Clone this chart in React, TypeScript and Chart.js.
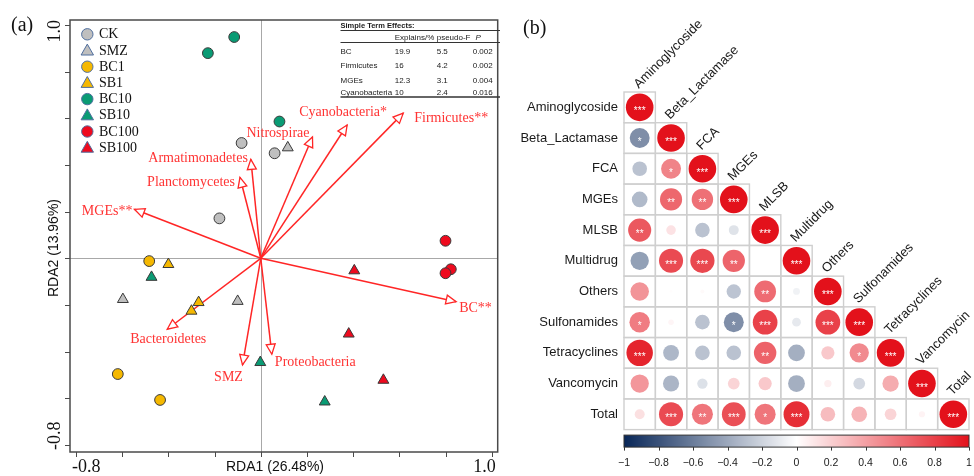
import React, { useEffect, useRef } from 'react';
import { Chart, registerables } from 'chart.js';

Chart.register(...registerables);

const SERIF = '"Liberation Serif", "Times New Roman", serif';
const SANS = '"Liberation Sans", Arial, Helvetica, sans-serif';

// ---------------- Panel (a): RDA biplot data ----------------
const GROUP_NAMES = ['CK', 'SMZ', 'BC1', 'SB1', 'BC10', 'SB10', 'BC100', 'SB100'];
const CK_POINTS = [[-0.083, 0.494], [0.060, 0.450], [-0.179, 0.171]];
const SMZ_POINTS = [[0.117, 0.474], [-0.597, -0.176], [-0.100, -0.184]];
const BC1_POINTS = [[-0.483, -0.012], [-0.619, -0.496], [-0.436, -0.607]];
const SB1_POINTS = [[-0.400, -0.026], [-0.269, -0.189], [-0.300, -0.226]];
const BC10_POINTS = [[-0.115, 0.948], [-0.229, 0.879], [0.081, 0.586]];
const SB10_POINTS = [[-0.473, -0.081], [-0.002, -0.446], [0.277, -0.615]];
const BC100_POINTS = [[0.800, 0.075], [0.823, -0.047], [0.800, -0.064]];
const SB100_POINTS = [[0.405, -0.053], [0.381, -0.324], [0.531, -0.522]];
const GROUP_POINTS = [CK_POINTS, SMZ_POINTS, BC1_POINTS, SB1_POINTS, BC10_POINTS, SB10_POINTS, BC100_POINTS, SB100_POINTS];

const ARROW_NAMES = ['MGEs**', 'Planctomycetes', 'Armatimonadetes', 'Nitrospirae', 'Cyanobacteria*', 'Firmicutes**', 'BC**', 'Bacteroidetes', 'SMZ', 'Proteobacteria'];
const ARROW_X = [-0.547, -0.090, -0.043, 0.224, 0.374, 0.617, 0.846, -0.405, -0.079, 0.048];
const ARROW_Y = [0.210, 0.347, 0.424, 0.520, 0.571, 0.622, -0.186, -0.304, -0.457, -0.411];

const AXIS_TICKS = [-0.8, -0.6, -0.4, -0.2, 0, 0.2, 0.4, 0.6, 0.8, 1.0];
const AXIS_TICK_TEXT = ['-0.8', '', '', '', '', '', '', '', '', '1.0'];
const X_TITLE = 'RDA1 (26.48%)';
const Y_TITLE = 'RDA2 (13.96%)';

const TABLE_TITLE = 'Simple Term Effects:';
const TABLE_HEADERS = ['Explains/%', 'pseudo-F', 'P'];
const TERM_NAMES = ['BC', 'Firmicutes', 'MGEs', 'Cyanobacteria'];
const TERM_EXPLAINS = ['19.9', '16', '12.3', '10'];
const TERM_PSEUDO_F = ['5.5', '4.2', '3.1', '2.4'];
const TERM_P = ['0.002', '0.002', '0.004', '0.016'];

// ---------------- Panel (b): correlation matrix data ----------------
const ARG_CATEGORIES = ['Aminoglycoside', 'Beta_Lactamase', 'FCA', 'MGEs', 'MLSB', 'Multidrug', 'Others', 'Sulfonamides', 'Tetracyclines', 'Vancomycin', 'Total'];
const CORR_AMINOGLYCOSIDE = [1];
const CORR_BETA_LACTAMASE = [-0.52, 1];
const CORR_FCA = [-0.28, 0.52, 1];
const CORR_MGES = [-0.32, 0.64, 0.60, 1];
const CORR_MLSB = [0.70, 0.12, -0.28, -0.13, 1];
const CORR_MULTIDRUG = [-0.44, 0.76, 0.77, 0.65, 0.0, 1];
const CORR_OTHERS = [0.45, 0.01, 0.02, -0.27, 0.62, -0.06, 1];
const CORR_SULFONAMIDES = [0.55, 0.04, -0.28, -0.52, 0.80, -0.10, 0.80, 1];
const CORR_TETRACYCLINES = [0.92, -0.33, -0.28, -0.28, 0.66, -0.37, 0.23, 0.49, 1];
const CORR_VANCOMYCIN = [0.44, -0.34, -0.14, 0.18, 0.23, -0.37, 0.07, -0.18, 0.35, 1];
const CORR_TOTAL = [0.13, 0.76, 0.58, 0.74, 0.58, 0.88, 0.28, 0.32, 0.18, 0.05, 1];
const CORR_ROWS = [CORR_AMINOGLYCOSIDE, CORR_BETA_LACTAMASE, CORR_FCA, CORR_MGES, CORR_MLSB, CORR_MULTIDRUG, CORR_OTHERS, CORR_SULFONAMIDES, CORR_TETRACYCLINES, CORR_VANCOMYCIN, CORR_TOTAL];

const SIG_AMINOGLYCOSIDE = ['***'];
const SIG_BETA_LACTAMASE = ['*', '***'];
const SIG_FCA = ['', '*', '***'];
const SIG_MGES = ['', '**', '**', '***'];
const SIG_MLSB = ['**', '', '', '', '***'];
const SIG_MULTIDRUG = ['', '***', '***', '**', '', '***'];
const SIG_OTHERS = ['', '', '', '', '**', '', '***'];
const SIG_SULFONAMIDES = ['*', '', '', '*', '***', '', '***', '***'];
const SIG_TETRACYCLINES = ['***', '', '', '', '**', '', '', '*', '***'];
const SIG_VANCOMYCIN = ['', '', '', '', '', '', '', '', '', '***'];
const SIG_TOTAL = ['', '***', '**', '***', '*', '***', '', '', '', '', '***'];
const SIG_ROWS = [SIG_AMINOGLYCOSIDE, SIG_BETA_LACTAMASE, SIG_FCA, SIG_MGES, SIG_MLSB, SIG_MULTIDRUG, SIG_OTHERS, SIG_SULFONAMIDES, SIG_TETRACYCLINES, SIG_VANCOMYCIN, SIG_TOTAL];

const COLORBAR_TICKS = [-1, -0.8, -0.6, -0.4, -0.2, 0, 0.2, 0.4, 0.6, 0.8, 1];

// ---------------- styles ----------------
const GROUP_SHAPES = ['circle', 'triangle', 'circle', 'triangle', 'circle', 'triangle', 'circle', 'triangle'];
const GROUP_COLORS = ['#BFBFBF', '#BFBFBF', '#F5B800', '#F5B800', '#0A9B74', '#0A9B74', '#EE0A1E', '#EE0A1E'];
const ARROW_COLOR = '#FF2626';
const LABEL_COLOR = '#FF3333';
const ARROW_LABEL_PLACE = [
  { dx: -2, dy: 2, align: 'right' },
  { dx: -5, dy: 5, align: 'right' },
  { dx: -3, dy: -1, align: 'right' },
  { dx: -3, dy: -4, align: 'right' },
  { dx: -4, dy: -13, align: 'center' },
  { dx: 11, dy: 5, align: 'left' },
  { dx: 3, dy: 7, align: 'left' },
  { dx: 1, dy: 10, align: 'center' },
  { dx: -14, dy: 12, align: 'center' },
  { dx: 3, dy: 8, align: 'left' },
];
const NEG_END = [8, 38, 88];
const POS_END = [227, 17, 27];

function corrColor(v: number): string {
  const t = Math.min(1, Math.abs(v));
  const end = v < 0 ? NEG_END : POS_END;
  const c = end.map((e) => Math.round(255 + (e - 255) * t));
  return `rgb(${c[0]},${c[1]},${c[2]})`;
}

// ---------------- Panel (a) plugin ----------------
const panelAPlugin = {
  id: 'panelADecor',
  beforeDatasetsDraw(chart: any) {
    const { ctx, chartArea: a, scales } = chart;
    const x0 = Math.round(scales.x.getPixelForValue(0)) + 0.5;
    const y0 = Math.round(scales.y.getPixelForValue(0)) + 0.5;
    ctx.save();
    ctx.strokeStyle = '#A8A8A8';
    ctx.lineWidth = 1;
    ctx.beginPath();
    ctx.moveTo(x0, a.top);
    ctx.lineTo(x0, a.bottom);
    ctx.moveTo(a.left, y0);
    ctx.lineTo(a.right, y0);
    ctx.stroke();
    ctx.restore();
  },
  afterDatasetsDraw(chart: any) {
    const { ctx, scales } = chart;
    const ox = scales.x.getPixelForValue(0);
    const oy = scales.y.getPixelForValue(0);
    ctx.save();
    for (let i = 0; i < ARROW_NAMES.length; i++) {
      const tx = scales.x.getPixelForValue(ARROW_X[i]);
      const ty = scales.y.getPixelForValue(ARROW_Y[i]);
      const dx = tx - ox, dy = ty - oy;
      const len = Math.hypot(dx, dy);
      const ux = dx / len, uy = dy / len;
      const L = 10, W = 4.5;
      const bx = tx - ux * L, by = ty - uy * L;
      ctx.beginPath();
      ctx.moveTo(tx, ty);
      ctx.lineTo(bx - uy * W, by + ux * W);
      ctx.lineTo(bx + uy * W, by - ux * W);
      ctx.closePath();
      ctx.fillStyle = '#FFFFFF';
      ctx.fill();
      ctx.strokeStyle = ARROW_COLOR;
      ctx.lineWidth = 1.3;
      ctx.stroke();
      const p = ARROW_LABEL_PLACE[i];
      ctx.font = `14px ${SERIF}`;
      ctx.fillStyle = LABEL_COLOR;
      ctx.textAlign = p.align;
      ctx.textBaseline = 'middle';
      ctx.fillText(ARROW_NAMES[i], tx + p.dx, ty + p.dy);
    }
    ctx.restore();
  },
  afterDraw(chart: any) {
    const { ctx, chartArea: a, scales } = chart;
    ctx.save();
    // box
    ctx.strokeStyle = '#4A4A4A';
    ctx.lineWidth = 1.5;
    ctx.strokeRect(a.left, a.top, a.right - a.left, a.bottom - a.top);
    // ticks
    ctx.lineWidth = 1;
    ctx.beginPath();
    AXIS_TICKS.forEach((t) => {
      const px = Math.round(scales.x.getPixelForValue(t)) + 0.5;
      ctx.moveTo(px, a.bottom);
      ctx.lineTo(px, a.bottom + 5);
      const py = Math.round(scales.y.getPixelForValue(t)) + 0.5;
      ctx.moveTo(a.left, py);
      ctx.lineTo(a.left - 5, py);
    });
    ctx.stroke();
    // tick labels
    ctx.fillStyle = '#111';
    ctx.font = `18px ${SERIF}`;
    ctx.textBaseline = 'middle';
    AXIS_TICKS.forEach((t, i) => {
      const txt = AXIS_TICK_TEXT[i];
      if (!txt) return;
      const first = i === 0;
      const px = scales.x.getPixelForValue(t);
      ctx.textAlign = first ? 'left' : 'right';
      ctx.fillText(txt, px + (first ? -4 : 4), a.bottom + 15);
      const py = scales.y.getPixelForValue(t);
      ctx.save();
      ctx.translate(a.left - 15, py + (first ? 5 : -5));
      ctx.rotate(-Math.PI / 2);
      ctx.textAlign = first ? 'left' : 'right';
      ctx.fillText(txt, 0, 0);
      ctx.restore();
    });
    // axis titles
    ctx.font = `14px ${SANS}`;
    ctx.textAlign = 'center';
    ctx.fillText(X_TITLE, 275, a.bottom + 15);
    ctx.save();
    ctx.translate(54, 248);
    ctx.rotate(-Math.PI / 2);
    ctx.fillText(Y_TITLE, 0, 0);
    ctx.restore();
    // panel letter
    ctx.font = `20px ${SERIF}`;
    ctx.textAlign = 'left';
    ctx.fillText('(a)', 11, 26);
    // legend
    GROUP_NAMES.forEach((name, k) => {
      const cx = 87.3, cy = 34.3 + k * 16.2;
      ctx.beginPath();
      if (GROUP_SHAPES[k] === 'circle') {
        ctx.arc(cx, cy, 5.7, 0, Math.PI * 2);
      } else {
        ctx.moveTo(cx, cy - 6.4);
        ctx.lineTo(cx - 6.2, cy + 4.5);
        ctx.lineTo(cx + 6.2, cy + 4.5);
        ctx.closePath();
      }
      ctx.fillStyle = GROUP_COLORS[k];
      ctx.fill();
      ctx.strokeStyle = '#4F6E9E';
      ctx.lineWidth = 1;
      ctx.stroke();
      ctx.fillStyle = '#111';
      ctx.font = `14px ${SERIF}`;
      ctx.textAlign = 'left';
      ctx.textBaseline = 'middle';
      ctx.fillText(name, 99, cy + 0.5);
    });
    // table
    const tx0 = 340.5, tx1 = 500;
    const cols = [394.7, 436.7, 472.7];
    ctx.fillStyle = '#1A1A1A';
    ctx.textAlign = 'left';
    ctx.textBaseline = 'middle';
    ctx.font = `bold 7.5px ${SANS}`;
    ctx.fillText(TABLE_TITLE, tx0, 26.3);
    ctx.font = `8px ${SANS}`;
    ctx.fillText(TABLE_HEADERS[0], cols[0], 37.7);
    ctx.fillText(TABLE_HEADERS[1], cols[1], 37.7);
    ctx.font = `italic 8px ${SANS}`;
    ctx.fillText(TABLE_HEADERS[2], 475.5, 37.7);
    ctx.font = `8px ${SANS}`;
    const rowY = [51.7, 66, 80.7, 92.3];
    TERM_NAMES.forEach((n, i) => {
      ctx.fillText(n, tx0, rowY[i]);
      ctx.fillText(TERM_EXPLAINS[i], cols[0], rowY[i]);
      ctx.fillText(TERM_PSEUDO_F[i], cols[1], rowY[i]);
      ctx.fillText(TERM_P[i], cols[2], rowY[i]);
    });
    ctx.strokeStyle = '#333';
    ctx.lineWidth = 1;
    ctx.beginPath();
    ctx.moveTo(tx0, 30.5); ctx.lineTo(tx1, 30.5);
    ctx.moveTo(tx0, 42.5); ctx.lineTo(tx1, 42.5);
    ctx.stroke();
    ctx.lineWidth = 1.6;
    ctx.beginPath();
    ctx.moveTo(tx0, 97); ctx.lineTo(tx1, 97);
    ctx.stroke();
    ctx.restore();
  },
};

// ---------------- Panel (b) plugin ----------------
const panelBPlugin = {
  id: 'panelBDecor',
  beforeDatasetsDraw(chart: any) {
    const { ctx, scales } = chart;
    ctx.save();
    ctx.strokeStyle = '#CFCFCF';
    ctx.lineWidth = 1.4;
    CORR_ROWS.forEach((row, i) => {
      row.forEach((_v, j) => {
        const l = scales.x.getPixelForValue(j - 0.5), r = scales.x.getPixelForValue(j + 0.5);
        const t = scales.y.getPixelForValue(i - 0.5), b = scales.y.getPixelForValue(i + 0.5);
        ctx.strokeRect(l, t, r - l, b - t);
      });
    });
    ctx.restore();
  },
  afterDatasetsDraw(chart: any) {
    const { ctx } = chart;
    const meta = chart.getDatasetMeta(0);
    const data = chart.data.datasets[0].data;
    ctx.save();
    ctx.fillStyle = '#FFFFFF';
    ctx.font = `10px ${SANS}`;
    ctx.textAlign = 'center';
    ctx.textBaseline = 'alphabetic';
    meta.data.forEach((el: any, k: number) => {
      const s = data[k].s;
      if (s) ctx.fillText(s, el.x, el.y + 7);
    });
    ctx.restore();
  },
  afterDraw(chart: any) {
    const { ctx, chartArea: a, scales } = chart;
    ctx.save();
    ctx.fillStyle = '#1A1A1A';
    ctx.font = `13px ${SANS}`;
    // row labels
    ctx.textAlign = 'right';
    ctx.textBaseline = 'middle';
    ARG_CATEGORIES.forEach((c, i) => {
      ctx.fillText(c, a.left - 6, scales.y.getPixelForValue(i));
    });
    // column labels (rotated, above diagonal cells)
    ctx.textAlign = 'left';
    ctx.textBaseline = 'alphabetic';
    ARG_CATEGORIES.forEach((c, j) => {
      const cx = scales.x.getPixelForValue(j);
      const top = scales.y.getPixelForValue(j - 0.5);
      ctx.save();
      ctx.translate(cx - 1, top - 3);
      ctx.rotate(-Math.PI / 4);
      ctx.fillText(c, 0, 0);
      ctx.restore();
    });
    // colour bar
    const x0 = scales.x.getPixelForValue(-0.5), x1 = scales.x.getPixelForValue(ARG_CATEGORIES.length - 0.5);
    const y0 = a.bottom + 5.5, y1 = a.bottom + 17.5;
    const g = ctx.createLinearGradient(x0, 0, x1, 0);
    for (let k = 0; k <= 40; k++) {
      const v = -1 + k / 20;
      g.addColorStop(k / 40, corrColor(v));
    }
    ctx.fillStyle = g;
    ctx.fillRect(x0, y0, x1 - x0, y1 - y0);
    ctx.strokeStyle = '#333';
    ctx.lineWidth = 1;
    ctx.strokeRect(x0, y0, x1 - x0, y1 - y0);
    ctx.beginPath();
    COLORBAR_TICKS.forEach((t) => {
      const px = Math.round(x0 + ((t + 1) / 2) * (x1 - x0)) + 0.5;
      ctx.moveTo(px, y1);
      ctx.lineTo(px, y1 + 3.5);
    });
    ctx.stroke();
    ctx.fillStyle = '#1A1A1A';
    ctx.font = `10.5px ${SANS}`;
    ctx.textAlign = 'center';
    ctx.textBaseline = 'middle';
    COLORBAR_TICKS.forEach((t) => {
      const px = x0 + ((t + 1) / 2) * (x1 - x0);
      const txt = t < 0 ? '\u2212' + String(Math.abs(t)) : String(t);
      ctx.fillText(txt, px, y1 + 16);
    });
    // panel letter
    ctx.fillStyle = '#111';
    ctx.font = `20px ${SERIF}`;
    ctx.textAlign = 'left';
    ctx.fillText('(b)', 18, 29);
    ctx.restore();
  },
};

function PanelA() {
  const ref = useRef<HTMLCanvasElement | null>(null);
  useEffect(() => {
    if (!ref.current) return;
    const arrowSets = ARROW_NAMES.map((n, i) => ({
      type: 'line' as const,
      label: n,
      data: [{ x: 0, y: 0 }, { x: ARROW_X[i], y: ARROW_Y[i] }],
      borderColor: ARROW_COLOR,
      borderWidth: 1.5,
      pointRadius: 0,
      fill: false,
      showLine: true,
      order: 2,
    }));
    const pointSets = GROUP_NAMES.map((n, k) => ({
      type: 'scatter' as const,
      label: n,
      data: GROUP_POINTS[k].map((p) => ({ x: p[0], y: p[1] })),
      pointStyle: GROUP_SHAPES[k],
      pointRadius: GROUP_SHAPES[k] === 'circle' ? 5.4 : 6.3,
      backgroundColor: GROUP_COLORS[k],
      borderColor: '#3A3A3A',
      borderWidth: 1,
      order: 1,
    }));
    const chart = new Chart(ref.current, {
      type: 'scatter',
      data: { datasets: [...arrowSets, ...pointSets] as any },
      options: {
        animation: false,
        responsive: false,
        devicePixelRatio: 1,
        events: [],
        layout: { padding: { left: 70, top: 20, right: 3, bottom: 24 } },
        scales: {
          x: { type: 'linear', min: -0.826, max: 1.026, display: false },
          y: { type: 'linear', min: -0.830, max: 1.021, display: false },
        },
        plugins: { legend: { display: false }, tooltip: { enabled: false } },
      } as any,
      plugins: [panelAPlugin as any],
    });
    return () => chart.destroy();
  }, []);
  return <canvas ref={ref} width={505} height={476} style={{ position: 'absolute', left: 0, top: 0, width: 505, height: 476 }} />;
}

function PanelB() {
  const ref = useRef<HTMLCanvasElement | null>(null);
  useEffect(() => {
    if (!ref.current) return;
    const cells: any[] = [];
    CORR_ROWS.forEach((row, i) => row.forEach((v, j) => cells.push({ x: j, y: i, v, s: SIG_ROWS[i][j] })));
    const chart = new Chart(ref.current, {
      type: 'scatter',
      data: {
        datasets: [
          {
            label: 'correlation',
            data: cells,
            pointStyle: 'circle',
            borderWidth: 0,
            pointRadius: (c: any) => {
              const raw = c.raw;
              if (!raw) return 0;
              const xs = c.chart.scales.x, ys = c.chart.scales.y;
              const cw = Math.abs(xs.getPixelForValue(1) - xs.getPixelForValue(0));
              const ch = Math.abs(ys.getPixelForValue(1) - ys.getPixelForValue(0));
              return 0.45 * Math.min(cw, ch) * Math.sqrt(Math.abs(raw.v));
            },
            backgroundColor: (c: any) => (c.raw ? corrColor(c.raw.v) : '#fff'),
          },
        ],
      },
      options: {
        animation: false,
        responsive: false,
        devicePixelRatio: 1,
        events: [],
        layout: { padding: { left: 119, top: 92, right: 5, bottom: 46.4 } },
        scales: {
          x: { type: 'linear', min: -0.5, max: ARG_CATEGORIES.length - 0.5, display: false },
          y: { type: 'linear', min: -0.5, max: ARG_CATEGORIES.length - 0.5, reverse: true, display: false },
        },
        plugins: { legend: { display: false }, tooltip: { enabled: false } },
      } as any,
      plugins: [panelBPlugin as any],
    });
    return () => chart.destroy();
  }, []);
  return <canvas ref={ref} width={469} height={476} style={{ position: 'absolute', left: 505, top: 0, width: 469, height: 476 }} />;
}

export default function App() {
  return (
    <div style={{ position: 'absolute', left: 0, top: 0, width: 974, height: 476, background: '#FFFFFF', overflow: 'hidden' }}>
      <PanelA />
      <PanelB />
    </div>
  );
}
